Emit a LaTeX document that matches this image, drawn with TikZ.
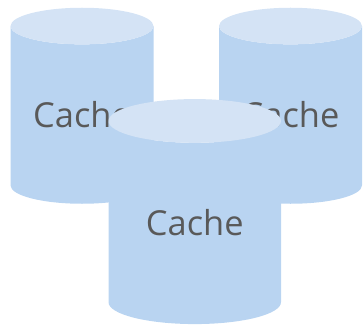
\documentclass[tikz,border=0pt]{standalone}
\usepackage{fontspec}
\setmainfont{Open Sans}
\usetikzlibrary{shapes.geometric}
\definecolor{cachebody}{HTML}{B9D4F1}
\definecolor{cachetop}{HTML}{D4E3F5}
\definecolor{cachetext}{HTML}{595959}

\begin{document}
\begin{tikzpicture}[x=1pt,y=-1pt,
                    cachedb/.style={cylinder,shape border rotate=90,draw=none,
                                    inner sep=0pt,outer sep=0pt,
                                    cylinder uses custom fill,
                                    cylinder body fill=cachebody,
                                    cylinder end fill=cachetop,
                                    text=cachetext,font=\fontsize{34.4}{34.4}\selectfont},
                    backdb/.style={cachedb,shape aspect=0.375,minimum width=143pt,minimum height=196pt},
                    frontdb/.style={cachedb,shape aspect=0.448,minimum width=172.5pt,minimum height=225pt}]
\useasboundingbox (0,0) rectangle (363,324);

\node[backdb] (left) at (82,115) {Cache};

\node[backdb] (right) at (290.5,115) {Cache};

\node[frontdb] (front) at (194.75,222.6) {Cache};

\end{tikzpicture}
\end{document}
